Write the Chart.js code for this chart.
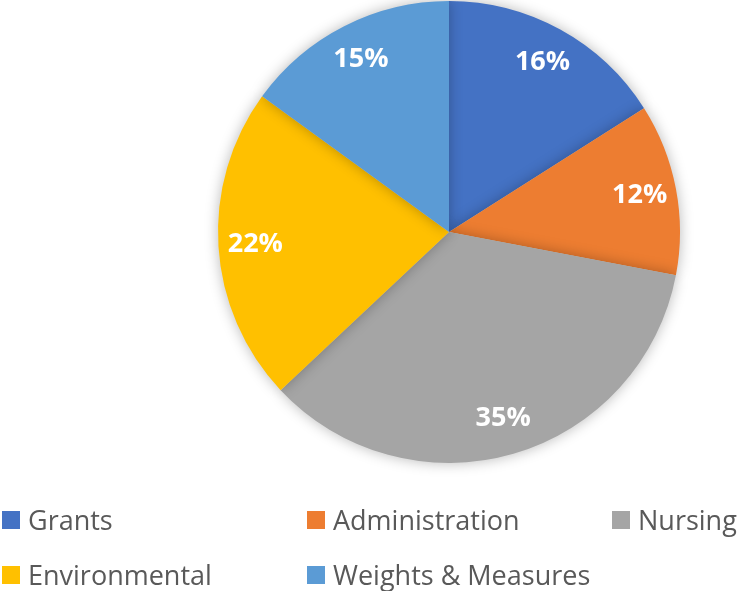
<!DOCTYPE html>
<html>
<head>
<meta charset="utf-8">
<script src="https://cdn.jsdelivr.net/npm/chart.js@4"></script>
<style>
    html, body { margin: 0; padding: 0; background: #ffffff; }
    #wrap { position: relative; width: 739px; height: 591px; overflow: hidden; }
    #chart { position: absolute; left: 0; top: 0; }
    .legend-item { position: absolute; height: 30px; line-height: 30px; white-space: nowrap;
        font-family: "Open Sans", sans-serif; font-size: 27px; color: #595959; }
    .legend-item span.box { position: absolute; left: 0; top: 6px; width: 18px; height: 18px; }
    .legend-item span.txt { position: absolute; left: 26px; top: 0; }
</style>
</head>
<body>
<div id="wrap">
    <canvas id="chart" width="739" height="591"></canvas>
</div>
<script>
// Dados do gráfico
const categories = ['Grants', 'Administration', 'Nursing', 'Environmental', 'Weights & Measures'];
const shares = [16, 12, 35, 22, 15];
const sliceColors = ['#4472C4', '#ED7D31', '#A5A5A5', '#FFC000', '#5B9BD5'];

// Posições da legenda (coluna x, linha y) na ordem das categorias
const legendSlots = [[2, 505], [307, 505], [612, 505], [2, 560], [307, 560]];

/**
 * Sombra suave em volta da pizza
 */
const shadowPlugin = {
    id: 'pieShadow',
    beforeDatasetsDraw(chart) {
        const ctx = chart.ctx;
        ctx.save();
        ctx.shadowColor = 'rgba(0, 0, 0, 0.28)';
        ctx.shadowBlur = 14;
        ctx.shadowOffsetX = 0;
        ctx.shadowOffsetY = 0;
    },
    afterDatasetsDraw(chart) {
        chart.ctx.restore();
    }
};

/**
 * Rótulos de porcentagem dentro das fatias
 */
const labelPlugin = {
    id: 'sliceLabels',
    afterDatasetsDraw(chart) {
        const ctx = chart.ctx;
        const meta = chart.getDatasetMeta(0);
        ctx.save();
        ctx.fillStyle = '#ffffff';
        ctx.font = 'bold 27px "Open Sans", sans-serif';
        ctx.textAlign = 'center';
        ctx.textBaseline = 'middle';
        meta.data.forEach((arc, i) => {
            const p = arc.getProps(['x', 'y', 'startAngle', 'endAngle', 'outerRadius'], true);
            const mid = (p.startAngle + p.endAngle) / 2;
            const r = p.outerRadius * 0.84;
            ctx.fillText(shares[i] + '%', p.x + Math.cos(mid) * r, p.y + Math.sin(mid) * r);
        });
        ctx.restore();
    }
};

new Chart(document.getElementById('chart'), {
    type: 'pie',
    data: {
        labels: categories,
        datasets: [{
            data: shares,
            backgroundColor: sliceColors,
            borderWidth: 0
        }]
    },
    options: {
        responsive: false,
        animation: false,
        layout: { padding: { top: 1, bottom: 128, left: 218, right: 59 } },
        plugins: {
            legend: { display: false },
            tooltip: { enabled: false }
        }
    },
    plugins: [shadowPlugin, labelPlugin]
});

// Legenda em HTML
const wrap = document.getElementById('wrap');
categories.forEach((name, i) => {
    const item = document.createElement('div');
    item.className = 'legend-item';
    item.style.left = legendSlots[i][0] + 'px';
    item.style.top = legendSlots[i][1] + 'px';
    item.innerHTML = `<span class="box" style="background:${sliceColors[i]}"></span><span class="txt"></span>`;
    item.querySelector('.txt').textContent = name;
    wrap.appendChild(item);
});
</script>
</body>
</html>
